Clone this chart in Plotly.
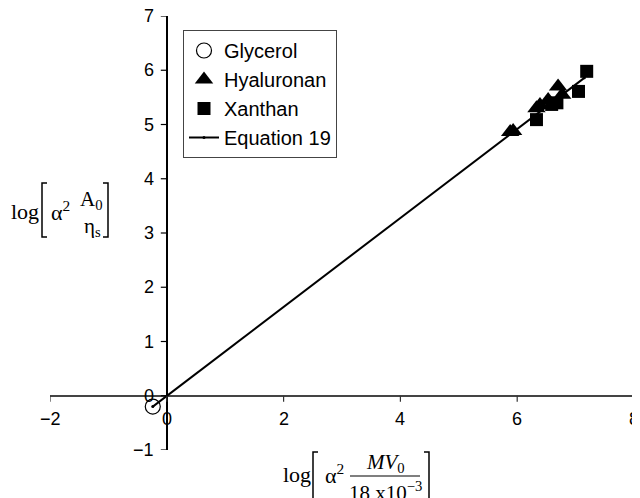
import plotly.graph_objects as go

# ---------------- data ----------------
gly_x = [-0.24]
gly_y = [-0.20]

hya_x = [5.88, 5.93, 6.33, 6.39, 6.53, 6.70, 6.77]
hya_y = [4.86, 4.88, 5.30, 5.36, 5.45, 5.70, 5.55]

xan_x = [6.33, 6.59, 6.68, 7.05, 7.19]
xan_y = [5.09, 5.37, 5.40, 5.61, 5.98]

eq_x = [-0.24, 7.15]
eq_y = [-0.20, 5.86]

x_ticks = [-2, 0, 2, 4, 6, 8]
x_tick_labels = ["\u22122", "0", "2", "4", "6", "8"]
y_ticks = [-1, 0, 1, 2, 3, 4, 5, 6, 7]
y_tick_labels = ["\u22121", "0", "1", "2", "3", "4", "5", "6", "7"]

# ---------------- layout geometry (page pixels) ----------------
W, H = 640, 498
OFF = 8                     # page body offset
PL, PR, PT, PB = 50, 634, 16, 450
ML, MT = PL - OFF, PT - OFF
MR = W - (PR - OFF)
MB = H - (PB - OFF)


def px(x):
    return (x - PL) / (PR - PL)


def py(y):
    return (PB - y) / (PB - PT)


SANS = "Liberation Sans, Arial, sans-serif"
SERIF = "Liberation Serif, Times New Roman, serif"

fig = go.Figure()

fig.add_trace(go.Scatter(
    x=gly_x, y=gly_y, mode="markers", name="Glycerol",
    marker=dict(symbol="circle-open", size=15, color="black", line=dict(width=1.2, color="black")),
))
fig.add_trace(go.Scatter(
    x=hya_x, y=hya_y, mode="markers", name="Hyaluronan",
    marker=dict(symbol="triangle-up", size=16, color="black"),
))
fig.add_trace(go.Scatter(
    x=xan_x, y=xan_y, mode="markers", name="Xanthan",
    marker=dict(symbol="square", size=13, color="black"),
))
fig.add_trace(go.Scatter(
    x=eq_x, y=eq_y, mode="lines+markers", name="Equation 19",
    line=dict(color="black", width=2),
    marker=dict(symbol="circle", size=3, color="black"),
))

shapes = []
annotations = []

# tick marks and labels for axes crossing at zero
for v, lab in zip(x_ticks, x_tick_labels):
    shapes.append(dict(type="line", xref="x", yref="y", xsizemode="pixel", ysizemode="pixel",
                       xanchor=v, yanchor=0, x0=0, x1=0, y0=0, y1=-6,
                       line=dict(color="#333", width=1.2)))
    annotations.append(dict(x=v, y=0, xref="x", yref="y", text=lab, showarrow=False,
                            yshift=-23, font=dict(family=SANS, size=18, color="black")))

for v, lab in zip(y_ticks, y_tick_labels):
    shapes.append(dict(type="line", xref="x", yref="y", xsizemode="pixel", ysizemode="pixel",
                       xanchor=0, yanchor=v, x0=0, x1=-6, y0=0, y1=0,
                       line=dict(color="black", width=1.2)))
    annotations.append(dict(x=0, y=v, xref="x", yref="y", text=lab, showarrow=False,
                            xanchor="right", xshift=-11, font=dict(family=SANS, size=18, color="black")))


def ptext(x, y, text, size=21, xanchor="center", family=SERIF):
    annotations.append(dict(x=px(x), y=py(y), xref="paper", yref="paper", text=text,
                            showarrow=False, xanchor=xanchor, yanchor="middle",
                            font=dict(family=family, size=size, color="black")))


def bracket(x, y0, y1, side):
    d = 5 if side == "left" else -5
    path = "M {a},{b} L {c},{b} L {c},{e} L {a},{e}".format(
        a=px(x + d), b=py(y0), c=px(x), e=py(y1))
    shapes.append(dict(type="path", xref="paper", yref="paper", path=path,
                       line=dict(color="black", width=1.5)))


# y-axis title
ptext(25, 211, "log", 22)
bracket(42, 183, 237, "left")
ptext(49, 211, "\u03b1<sup>2</sup>", 22, "left")
ptext(91, 200, "A<sub>0</sub>", 21)
ptext(92, 227, "\u03b7<sub>s</sub>", 21)
bracket(108, 183, 237, "right")

# x-axis title
ptext(297, 474, "log", 22)
bracket(313, 452, 510, "left")
ptext(323, 474, "\u03b1<sup>2</sup>", 22, "left")
ptext(385, 463, "<i>MV</i><sub>0</sub>", 21)
shapes.append(dict(type="line", xref="paper", yref="paper", x0=px(350), x1=px(420),
                   y0=py(476), y1=py(476), line=dict(color="black", width=1.2)))
ptext(385, 492, "18 x10<sup>\u22123</sup>", 21)
bracket(429, 452, 510, "right")

fig.update_layout(
    width=W, height=H,
    margin=dict(l=ML, r=MR, t=MT, b=MB),
    paper_bgcolor="white", plot_bgcolor="white",
    showlegend=True,
    legend=dict(x=px(183), y=py(30), xanchor="left", yanchor="top",
                bordercolor="#444", borderwidth=1, bgcolor="white",
                font=dict(family=SANS, size=20, color="black"),
                tracegroupgap=0, itemsizing="trace"),
    xaxis=dict(range=[-2, 8], showgrid=False, showticklabels=False, ticks="",
               showline=False, zeroline=True, zerolinecolor="black", zerolinewidth=1.5),
    yaxis=dict(range=[-1, 7], showgrid=False, showticklabels=False, ticks="",
               showline=False, zeroline=True, zerolinecolor="#444", zerolinewidth=1.5),
    shapes=shapes,
    annotations=annotations,
)

fig.write_html("out.html")
